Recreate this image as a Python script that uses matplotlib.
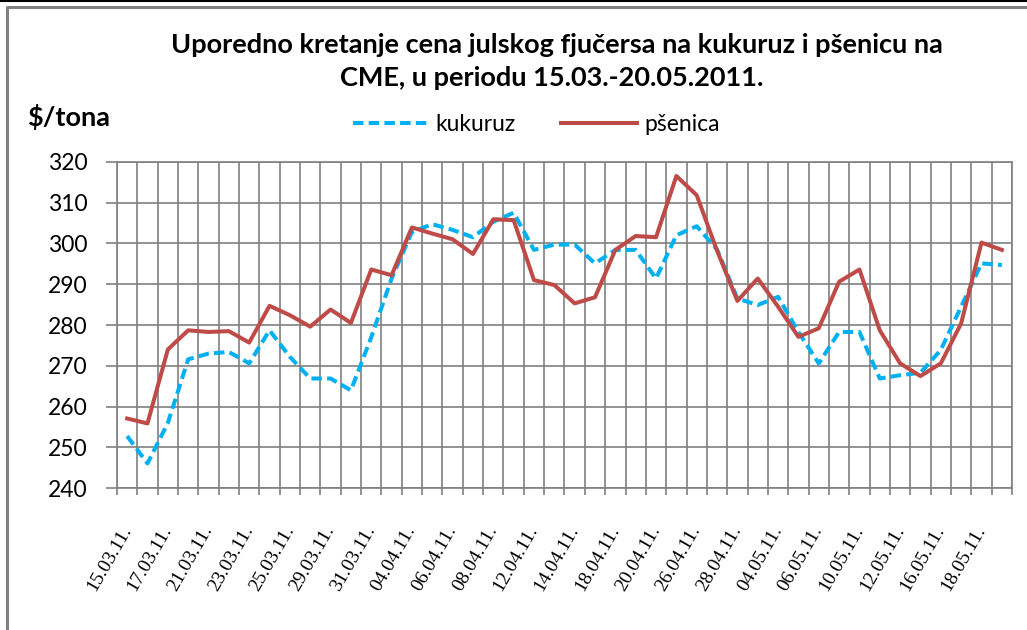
import numpy as np
import matplotlib
matplotlib.use('Agg')
import matplotlib.pyplot as plt
from matplotlib.lines import Line2D

dates = ['15.03.11.', '16.03.11.', '17.03.11.', '18.03.11.', '21.03.11.', '22.03.11.',
         '23.03.11.', '24.03.11.', '25.03.11.', '28.03.11.', '29.03.11.', '30.03.11.',
         '31.03.11.', '01.04.11.', '04.04.11.', '05.04.11.', '06.04.11.', '07.04.11.',
         '08.04.11.', '11.04.11.', '12.04.11.', '13.04.11.', '14.04.11.', '15.04.11.',
         '18.04.11.', '19.04.11.', '20.04.11.', '21.04.11.', '26.04.11.', '27.04.11.',
         '28.04.11.', '29.04.11.', '04.05.11.', '05.05.11.', '06.05.11.', '09.05.11.',
         '10.05.11.', '11.05.11.', '12.05.11.', '13.05.11.', '16.05.11.', '17.05.11.',
         '18.05.11.', '19.05.11.']

kukuruz = [252.8, 246.1, 256.0, 271.6, 273.0, 273.4, 270.6, 278.7, 272.2, 266.9, 266.9,
           264.0, 277.0, 291.4, 302.8, 304.7, 303.3, 301.5, 305.3, 307.5, 298.4, 299.7,
           299.7, 295.1, 298.4, 298.4, 291.4, 302.0, 304.2, 298.5, 286.5, 284.9, 286.9,
           278.3, 270.6, 278.3, 278.3, 266.9, 267.7, 268.3, 273.9, 284.5, 295.1, 294.7]

psenica = [257.1, 255.9, 274.0, 278.7, 278.3, 278.5, 275.7, 284.7, 282.4, 279.6, 283.8,
           280.5, 293.6, 292.2, 303.9, 302.4, 301.0, 297.4, 305.9, 305.7, 291.0, 289.8,
           285.3, 286.8, 298.4, 301.8, 301.5, 316.5, 311.8, 298.2, 285.9, 291.4, 284.5,
           277.1, 279.2, 290.6, 293.6, 278.7, 270.6, 267.5, 270.6, 280.4, 300.2, 298.4]

y_ticks = [240, 250, 260, 270, 280, 290, 300, 310, 320]

grid_col = '#808080'
blue = '#00B0F0'
red = '#BE4B48'
font = 'Lato'

fig = plt.figure(figsize=(10.27, 6.30), dpi=100)
ax = fig.add_axes([0.1139, 0.2249, 0.8715, 0.5184])

x = np.arange(len(dates))
ax.plot(x, kukuruz, color=blue, lw=2.9, dashes=(2.6, 1.3), label='kukuruz')
ax.plot(x, psenica, color=red, lw=2.9, label='pšenica')

ax.set_xlim(-0.5, len(dates) - 0.5)
ax.set_ylim(240, 320)

# grid on category boundaries, labels on every second category
ax.set_xticks(np.arange(len(dates) + 1) - 0.5)
ax.set_xticklabels([])
ax.set_xticks(x[::2], minor=True)
ax.set_xticklabels(dates[::2], minor=True, rotation=60, ha='right', va='center',
                   rotation_mode='anchor', family='Liberation Serif', fontsize=14)
ax.tick_params(axis='x', which='major', length=5, color=grid_col, width=1.2)
ax.tick_params(axis='x', which='minor', length=0, pad=28)
ax.grid(True, which='major', color=grid_col, lw=1.2)

ax.set_yticks(y_ticks)
ax.set_yticklabels([str(v) for v in y_ticks], fontsize=16.5, family=font)
ax.tick_params(axis='y', length=8, color=grid_col, width=1.2, pad=13)

for s in ax.spines.values():
    s.set_color(grid_col)
    s.set_linewidth(1.2)

fig.text(0.542, 0.928, 'Uporedno kretanje cena julskog fjučersa na kukuruz i pšenicu na',
         ha='center', va='center', fontsize=19.5, fontweight='bold', family=font)
fig.text(0.537, 0.876, 'CME, u periodu 15.03.-20.05.2011.',
         ha='center', va='center', fontsize=19.5, fontweight='bold', family=font)
fig.text(0.026, 0.814, '$/tona', ha='left', va='center', fontsize=19.5,
         fontweight='bold', family=font)

fig.legend(loc='center', bbox_to_anchor=(0.522, 0.803), ncol=2, frameon=False,
           prop={'family': font, 'size': 16.5}, handlelength=3.3,
           handletextpad=0.3, columnspacing=2.0)

# chart area border
fig.add_artist(Line2D([0, 1], [0.999, 0.999], color='black', lw=1.5))
fig.add_artist(Line2D([0.0068, 0.0068, 1], [0, 0.9885, 0.9885], color=grid_col, lw=2.2))

plt.savefig('out.png', dpi=100)
plt.close()
